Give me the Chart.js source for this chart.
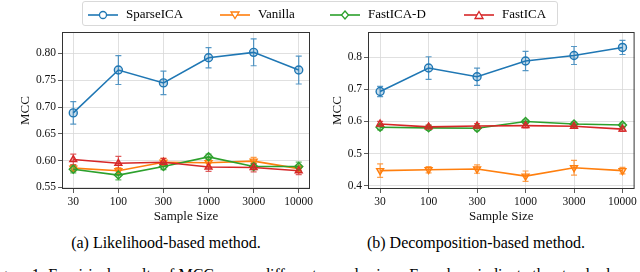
<!DOCTYPE html>
<html>
<head>
<meta charset="utf-8">
<script src="https://cdn.jsdelivr.net/npm/chart.js@4"></script>
<style>
  body { margin: 0; background: #fff; width: 640px; height: 272px; overflow: hidden; position: relative; font-family: "Liberation Serif", serif; }
  .plot { position: absolute; top: 0; width: 320px; height: 232px; }
  #legend { position: absolute; left: 82px; top: 1px; width: 474px; height: 23px; border: 1px solid #d9d9d9; border-radius: 3px; }
  .item { position: absolute; top: 3px; font-size: 13px; line-height: 17px; white-space: nowrap; }
  .item svg { vertical-align: middle; margin-right: 8px; }
  .cap { position: absolute; top: 234px; font-size: 16px; white-space: nowrap; transform: translateX(-50%); }
  #fig { position: absolute; left: -14px; top: 266px; font-size: 16px; white-space: nowrap; }
</style>
</head>
<body>
<div class="plot" style="left:0"><canvas id="left" width="320" height="232"></canvas></div>
<div class="plot" style="left:320px"><canvas id="right" width="320" height="232"></canvas></div>
<div id="legend"></div>
<div class="cap" style="left:166px">(a) Likelihood-based method.</div>
<div class="cap" style="left:476px">(b) Decomposition-based method.</div>
<div id="fig">Figure 1: Empirical results of MCC across different sample sizes. Error bars indicate the standard</div>

<script>
const sizes = ['30', '100', '300', '1000', '3000', '10000'];
const methods = ['SparseICA', 'Vanilla', 'FastICA-D', 'FastICA'];
const colors = ['#1f77b4', '#ff7f0e', '#2ca02c', '#d62728'];

// (a) likelihood-based
const likSparse = [0.689, 0.769, 0.745, 0.792, 0.802, 0.769];
const likSparseErr = [0.021, 0.027, 0.022, 0.019, 0.025, 0.026];
const likVanilla = [0.586, 0.581, 0.597, 0.596, 0.599, 0.585];
const likVanillaErr = [0.006, 0.006, 0.007, 0.007, 0.007, 0.006];
const likFastD = [0.584, 0.573, 0.589, 0.607, 0.589, 0.589];
const likFastDErr = [0.007, 0.009, 0.006, 0.005, 0.006, 0.008];
const likFast = [0.602, 0.595, 0.597, 0.588, 0.587, 0.581];
const likFastErr = [0.010, 0.013, 0.007, 0.008, 0.008, 0.007];
const likTicks = [0.55, 0.60, 0.65, 0.70, 0.75, 0.80];

// (b) decomposition-based
const decSparse = [0.693, 0.766, 0.739, 0.788, 0.805, 0.830];
const decSparseErr = [0.016, 0.035, 0.027, 0.030, 0.028, 0.022];
const decVanilla = [0.447, 0.450, 0.452, 0.430, 0.456, 0.447];
const decVanillaErr = [0.021, 0.010, 0.013, 0.016, 0.023, 0.010];
const decFastD = [0.582, 0.580, 0.579, 0.600, 0.592, 0.589];
const decFastDErr = [0.008, 0.008, 0.008, 0.005, 0.005, 0.006];
const decFast = [0.592, 0.583, 0.586, 0.587, 0.585, 0.576];
const decFastErr = [0.008, 0.006, 0.007, 0.007, 0.006, 0.007];
const decTicks = [0.4, 0.5, 0.6, 0.7, 0.8];

const pointStyles = ['circle', 'triangle', 'rectRot', 'triangle'];
const rotations = [0, 180, 0, 0];

function fade(hex, a) {
  const n = parseInt(hex.slice(1), 16);
  return `rgba(${n >> 16},${(n >> 8) & 255},${n & 255},${a})`;
}

// error bars and the full frame box
const errorBars = {
  id: 'errorBars',
  beforeDatasetsDraw(chart) {
    const ctx = chart.ctx;
    const x = chart.scales.x, y = chart.scales.y;
    chart.data.datasets.forEach((ds) => {
      ctx.save();
      ctx.strokeStyle = fade(ds.borderColor, 0.75);
      ctx.lineWidth = 1.2;
      ds.data.forEach((p, i) => {
        const e = ds.errors[i];
        const px = x.getPixelForValue(p.x);
        const y1 = y.getPixelForValue(p.y - e), y2 = y.getPixelForValue(p.y + e);
        ctx.beginPath();
        ctx.moveTo(px, y1); ctx.lineTo(px, y2);
        ctx.moveTo(px - 3, y1); ctx.lineTo(px + 3, y1);
        ctx.moveTo(px - 3, y2); ctx.lineTo(px + 3, y2);
        ctx.stroke();
      });
      ctx.restore();
    });
  },
  afterDraw(chart) {
    const a = chart.chartArea, ctx = chart.ctx;
    ctx.save();
    ctx.strokeStyle = '#333';
    ctx.lineWidth = 1;
    ctx.strokeRect(a.left + 0.5, a.top + 0.5, a.right - a.left - 1, a.bottom - a.top - 1);
    ctx.restore();
  }
};

function makeChart(id, series, errs, ticks, ymin, ymax, axisWidth, titlePad, padRight) {
  const datasets = series.map((vals, k) => ({
    label: methods[k],
    data: vals.map((v, i) => ({ x: i, y: v })),
    errors: errs[k],
    borderColor: colors[k],
    backgroundColor: fade(colors[k], 0.25),
    borderWidth: 1.6,
    pointStyle: pointStyles[k],
    pointRotation: rotations[k],
    pointRadius: 4,
    pointBorderWidth: 1.4,
    order: 3 - k
  }));
  return new Chart(document.getElementById(id), {
    type: 'line',
    data: { datasets },
    options: {
      responsive: false,
      animation: false,
      layout: { padding: { top: 32, right: padRight, left: 0, bottom: 0 } },
      plugins: { legend: { display: false }, tooltip: { enabled: false } },
      scales: {
        x: {
          type: 'linear',
          min: -0.25,
          max: 5.25,
          afterBuildTicks(s) { s.ticks = sizes.map((_, i) => ({ value: i })); },
          afterFit(s) { s.height = 43; },
          ticks: {
            callback: (v) => sizes[v],
            color: '#111',
            padding: 2,
            maxRotation: 0,
            font: { family: 'Liberation Serif', size: 11.5 }
          },
          grid: { color: '#d8d8d8', borderDash: [2, 2], lineWidth: 0.8, tickColor: '#333', tickLength: 4, tickBorderDash: [] },
          border: { display: false },
          title: {
            display: true, text: 'Sample Size', color: '#111',
            font: { family: 'Liberation Serif', size: 13, lineHeight: 1.2 },
            padding: { top: 0, bottom: 8 }
          }
        },
        y: {
          min: ymin,
          max: ymax,
          afterBuildTicks(s) { s.ticks = ticks.map((v) => ({ value: v })); },
          afterFit(s) { s.width = axisWidth; },
          ticks: {
            callback: (v) => v.toFixed(ticks === likTicks ? 2 : 1),
            color: '#111',
            padding: 2,
            font: { family: 'Liberation Serif', size: 11.5 }
          },
          grid: { color: '#d8d8d8', borderDash: [2, 2], lineWidth: 0.8, tickColor: '#333', tickLength: 4, tickBorderDash: [] },
          border: { display: false },
          title: {
            display: true, text: 'MCC', color: '#111',
            font: { family: 'Liberation Serif', size: 13, lineHeight: 1.2 },
            padding: { top: titlePad, bottom: 0 }
          }
        }
      }
    },
    plugins: [errorBars]
  });
}

makeChart('left',
  [likSparse, likVanilla, likFastD, likFast],
  [likSparseErr, likVanillaErr, likFastDErr, likFastErr],
  likTicks, 0.547, 0.840, 62, 18, 10);

makeChart('right',
  [decSparse, decVanilla, decFastD, decFast],
  [decSparseErr, decVanillaErr, decFastDErr, decFastErr],
  decTicks, 0.390, 0.878, 48, 10, 4);

// shared legend across both panels
const legendX = [5, 137, 247, 381];
const markerSvg = [
  '<circle cx="15" cy="6" r="3.5"/>',
  '<polygon points="11,3 19,3 15,9.5"/>',
  '<polygon points="15,2 18.5,6 15,10 11.5,6"/>',
  '<polygon points="11,9.5 19,9.5 15,2.5"/>'
];
const legend = document.getElementById('legend');
methods.forEach((m, k) => {
  const el = document.createElement('div');
  el.className = 'item';
  el.style.left = legendX[k] + 'px';
  el.innerHTML = `<svg width="30" height="12"><line x1="0" y1="6" x2="30" y2="6" stroke="${colors[k]}" stroke-width="1.6"/>` +
    `<g fill="#fff" stroke="${colors[k]}" stroke-width="1.3">${markerSvg[k]}</g></svg>${m}`;
  legend.appendChild(el);
});
</script>
</body>
</html>
